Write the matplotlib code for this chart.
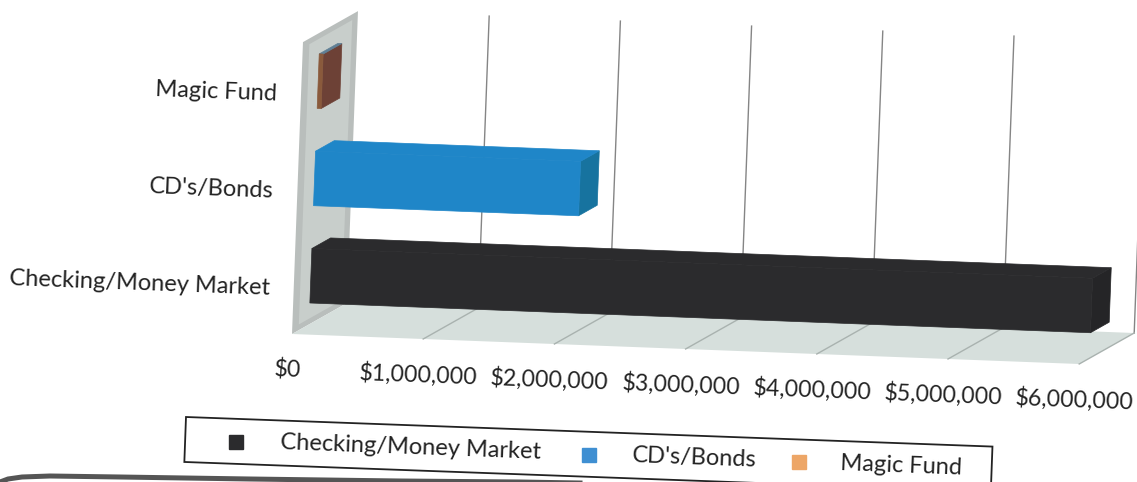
import numpy as np
import matplotlib
matplotlib.use('Agg')
import matplotlib.pyplot as plt
from matplotlib.transforms import Affine2D

plt.rcParams['font.family'] = ['Lato', 'DejaVu Sans']

categories = ['Checking/Money Market', "CD's/Bonds", 'Magic Fund']
values = [5950000, 2020000, 30000]
front_colors = ['#2b2b2d', '#1f86c8', '#8a5a3c']
top_colors = ['#2b2b2d', '#1f86c8', '#5f7f95']
side_colors = ['#252527', '#17739f', '#6d4136']
ticks = [0, 1000000, 2000000, 3000000, 4000000, 5000000, 6000000]
tick_labels = ['$0', '$1,000,000', '$2,000,000', '$3,000,000', '$4,000,000', '$5,000,000', '$6,000,000']

W, H = 1137, 482
fig = plt.figure(figsize=(W / 100, H / 100), dpi=100)
ax = fig.add_axes([0, 0, 1, 1])
ax.set_xlim(0, W)
ax.set_ylim(H, 0)
ax.axis('off')

# oblique projection of the 3d chart: value per $, height per category, depth 0..1
OX, OY = 292, 334
VX, VY = 131.2e-6, 5.0e-6
HX, HY = 3.66, -97.3
DX, DY = 55, -31


def plane(ux, uy, vx, vy, ox=OX, oy=OY):
    return Affine2D.from_values(ux, uy, vx, vy, ox, oy) + ax.transData


front = plane(VX, VY, HX, HY)
back = plane(VX, VY, HX, HY, OX + DX, OY + DY)
floor = plane(VX, VY, DX, DY)
wall = plane(DX, DY, HX, HY)

# wall and floor
ax.fill([0, 1, 1, 0], [0, 0, 3, 3], color='#b9bebc', lw=0, transform=wall, zorder=1)
ax.fill([0.12, 0.9, 0.9, 0.12], [0.06, 0.06, 2.94, 2.94], color='#c8cecb', lw=0, transform=wall, zorder=1)
ax.fill([0, 6e6, 6e6, 0], [0, 0, 1, 1], color='#d6dfdc', lw=0, transform=floor, zorder=1)

# grid lines
for t in ticks[1:]:
    ax.plot([t, t], [0, 3], color='#858585', lw=1, transform=back, zorder=2)
    ax.plot([t, t], [0, 1], color='#a9b2af', lw=1, transform=floor, zorder=2)

# bars
bar_bottom, bar_h = 0.22, 0.56
d0, d1 = 0.31, 0.65
for i, v in enumerate(values):
    b, t = i + bar_bottom, i + bar_bottom + bar_h
    bar_side = plane(DX, DY, HX, HY, OX + VX * v, OY + VY * v)
    bar_top = plane(VX, VY, DX, DY, OX + HX * t, OY + HY * t)
    ax.fill([d0, d1, d1, d0], [b, b, t, t], color=side_colors[i], lw=0.5, transform=bar_side, zorder=3)
    ax.fill([0, v, v, 0], [d0, d0, d1, d1], color=top_colors[i], lw=0.5, transform=bar_top, zorder=3)
    bar_front = plane(VX, VY, HX, HY, OX + DX * d0, OY + DY * d0)
    ax.barh(i + bar_bottom + bar_h / 2, v, height=bar_h, color=front_colors[i], edgecolor=front_colors[i],
            lw=0.5, transform=bar_front, zorder=4)

# labels, the scan is turned a little so all text is too
angle = -2.15
for i, c in enumerate(categories):
    ax.text(-180000, i + 0.46, c, transform=front, ha='right', va='center', fontsize=17,
            color='#222222', rotation=angle, rotation_mode='anchor')
for t, lab in zip(ticks, tick_labels):
    ax.text(t - 25000, -0.37, lab, transform=front, ha='center', va='center', fontsize=16.7,
            color='#222222', rotation=angle, rotation_mode='anchor')

# legend box, same tilt
leg = Affine2D().rotate_deg(2.1).translate(186, 417) + ax.transData
ax.fill([0, 807, 807, 0, 0], [0, 0, 45, 45, 0], facecolor='white', edgecolor='#222222', lw=1.3,
        transform=leg, zorder=5)
leg_marks = [51, 404, 614]
leg_text = [95, 447, 656]
leg_colors = ['#2b2b2d', '#3f8fd2', '#eda667']
for i, c in enumerate(categories):
    ax.plot([leg_marks[i]], [23], marker='s', ms=10, color=leg_colors[i], transform=leg, zorder=6)
    ax.text(leg_text[i], 22, c, transform=leg, ha='left', va='center', fontsize=17, color='#222222',
            rotation=angle, rotation_mode='anchor', zorder=6)

# edge of the scanned page along the bottom
edge_x = [0, 8, 22, 50, 120, 250, 400, 520, 640]
edge_y = [482, 479, 477, 476, 477, 479, 481, 482, 484]
ax.plot(edge_x, edge_y, color='#555555', lw=3.6, zorder=7)

fig.savefig('out.png', dpi=100)
